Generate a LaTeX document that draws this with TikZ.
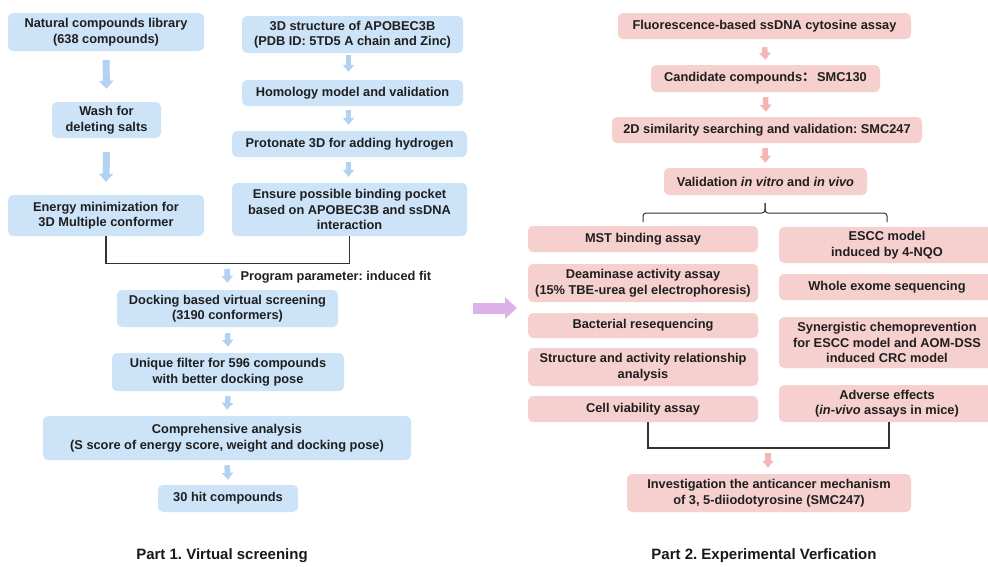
\documentclass[tikz,border=0pt]{standalone}
\usepackage{fontspec}
\setmainfont{Liberation Sans}
\newfontfamily\cjkfont{Noto Sans CJK SC}
\usetikzlibrary{arrows.meta,calc}
\definecolor{boxblue}{HTML}{CDE3F8}
\definecolor{arrblue}{HTML}{B3D2F1}
\definecolor{boxpink}{HTML}{F6CFCF}
\definecolor{arrpink}{HTML}{F3B5B5}
\definecolor{arrpurple}{HTML}{DDB2E8}
\definecolor{linegray}{HTML}{333333}
\frenchspacing
\newcommand{\boxfont}{\fontsize{12.8}{15.5}\selectfont\bfseries}
\tikzset{
  x=1pt, y=-1pt,
  basebox/.style={rounded corners=5pt, align=center, inner sep=0pt, font=\boxfont, text=black!88},
  bbox/.style={basebox, fill=boxblue},
  pbox/.style={basebox, fill=boxpink},
  bigarrow/.style={draw=arrblue, line width=7pt, -{Triangle[width=14pt,length=8pt]}},
  smallarrow/.style={draw=arrblue, line width=5.5pt, -{Triangle[width=11pt,length=7pt]}},
  pinkarrow/.style={draw=arrpink, line width=5.5pt, -{Triangle[width=11pt,length=7pt]}},
  purplearrow/.style={draw=arrpurple, line width=11pt, -{Triangle[width=21pt,length=12pt]}},
  conn/.style={draw=linegray, line width=1.2pt},
  title/.style={font=\fontsize{15}{18}\selectfont\bfseries, text=black!90},
}
\begin{document}
\begin{tikzpicture}
\useasboundingbox (0,0) rectangle (988,566);
\clip (0,0) rectangle (988,566);
\fill[white] (0,0) rectangle (988,566);

% ---------- Part 1 ----------
\node[bbox, minimum width=196pt, minimum height=38pt] (nat) at (106,32) {Natural compounds library\\(638 compounds)};
\node[bbox, minimum width=109pt, minimum height=36pt] (wash) at (106.5,120) {Wash for\\deleting salts};
\node[bbox, minimum width=196pt, minimum height=41pt] (energy) at (106,215.5) {Energy minimization for\\3D Multiple conformer};
\node[bbox, minimum width=221pt, minimum height=37pt] (struct) at (352.5,34.5) {3D structure of APOBEC3B\\(PDB ID: 5TD5 A chain and Zinc)};
\node[bbox, minimum width=221pt, minimum height=26pt] (homol) at (352.5,93) {Homology model and validation};
\node[bbox, minimum width=235pt, minimum height=26pt] (proton) at (349.5,144) {Protonate 3D for adding hydrogen};
\node[bbox, minimum width=235pt, minimum height=53pt] (ensure) at (349.5,209.5) {Ensure possible binding pocket\\based on APOBEC3B and ssDNA\\interaction};
\node[bbox, minimum width=221pt, minimum height=37pt] (dock) at (227.5,308.5) {Docking based virtual screening\\(3190 conformers)};
\node[bbox, minimum width=232pt, minimum height=38pt] (uniq) at (228,372) {Unique filter for 596 compounds\\with better docking pose};
\node[bbox, minimum width=368pt, minimum height=44pt] (comp) at (227,438) {Comprehensive analysis\\(S score of energy score, weight and docking pose)};
\node[bbox, minimum width=140pt, minimum height=27pt] (hit) at (228,498.5) {30 hit compounds};
\node[title] (t1) at (222,556) {Part 1. Virtual screening};

\draw[bigarrow] ($(nat.south)+(0,9)$) -- ($(wash.north)+(0,-13)$);
\draw[bigarrow] ($(wash.south)+(0,14)$) -- ($(energy.north)+(0,-13)$);
\draw[smallarrow] ($(struct.south)+(-4,2)$) -- ($(homol.north)+(-4,-8)$);
\draw[smallarrow] ($(homol.south)+(-4,4)$) -- ($(proton.north)+(-1,-6)$);
\draw[smallarrow] ($(proton.south)+(-1,5)$) -- ($(ensure.north)+(-1,-6)$);

\coordinate (jl) at (227,263);
\draw[conn] (energy.south) -- ++(0,27) -| (ensure.south);
\draw[smallarrow] ($(jl)+(0,6)$) -- ($(dock.north)+(0,-7)$);
\node[anchor=west, font=\boxfont, text=black!88] (param) at (237,277) {Program parameter: induced fit};
\draw[smallarrow] ($(dock.south)+(0,6)$) -- ($(uniq.north)+(0,-6)$);
\draw[smallarrow] ($(uniq.south)+(0,5)$) -- ($(comp.north)+(0,-6)$);
\draw[smallarrow] ($(comp.south)+(0,5)$) -- ($(hit.north)+(0,-5)$);

% ---------- arrow between parts ----------
\coordinate (pa) at (473,308);
\coordinate (pb) at (517,308);
\draw[purplearrow] (pa) -- (pb);

% ---------- Part 2 ----------
\node[pbox, minimum width=293pt, minimum height=26pt] (fluor) at (764.5,26) {Fluorescence-based ssDNA cytosine assay};
\node[pbox, minimum width=229pt, minimum height=27pt] (cand) at (765.5,78.5) {Candidate compounds{\cjkfont ：}\,SMC130};
\node[pbox, minimum width=310pt, minimum height=26pt] (sim) at (767,130) {2D similarity searching and validation: SMC247};
\node[pbox, minimum width=203pt, minimum height=27pt] (valid) at (765.5,181.5) {Validation \textit{in vitro} and \textit{in vivo}};

\node[pbox, minimum width=230pt, minimum height=26pt] (mst) at (643,239) {MST binding assay};
\node[pbox, minimum width=230pt, minimum height=38pt] (deam) at (643,283) {Deaminase activity assay\\(15\% TBE-urea gel electrophoresis)};
\node[pbox, minimum width=230pt, minimum height=25pt] (bact) at (643,325.5) {Bacterial resequencing};
\node[pbox, minimum width=230pt, minimum height=38pt] (sar) at (643,367) {Structure and activity relationship\\analysis};
\node[pbox, minimum width=230pt, minimum height=26pt] (cell) at (643,409) {Cell viability assay};

\node[pbox, minimum width=216pt, minimum height=36pt] (escc) at (887,245) {ESCC model\\induced by 4-NQO};
\node[pbox, minimum width=216pt, minimum height=26pt] (wes) at (887,287) {Whole exome sequencing};
\node[pbox, minimum width=216pt, minimum height=51pt] (syn) at (887,342.5) {Synergistic chemoprevention\\for ESCC model and AOM-DSS\\induced CRC model};
\node[pbox, minimum width=216pt, minimum height=37pt] (adv) at (887,403.5) {Adverse effects\\(\textit{in-vivo} assays in mice)};

\node[pbox, minimum width=284pt, minimum height=38pt] (inv) at (769,493) {Investigation the anticancer mechanism\\of 3, 5-diiodotyrosine (SMC247)};
\node[title] (t2) at (764,556) {Part 2. Experimental Verfication};

\draw[pinkarrow] ($(fluor.south)+(0,8)$) -- ($(cand.north)+(0,-5)$);
\draw[pinkarrow] ($(cand.south)+(0,5)$) -- ($(sim.north)+(-1,-5)$);
\draw[pinkarrow] ($(sim.south)+(-2,5)$) -- ($(valid.north)+(0,-5)$);

% brace
\coordinate (btip) at (765,203);
\coordinate (bl) at (643,222);
\coordinate (br) at (887,222);
\draw[conn, line width=1pt, rounded corners=3pt] (bl) -- (643,213) -- (765,213) -- (btip);
\draw[conn, line width=1pt, rounded corners=3pt] (br) -- (887,213) -- (765,213) -- (btip);

% bottom connector
\coordinate (jr) at (768,448);
\draw[conn] ($(cell.south)+(5,0)$) -- (648,448) -- (889,448) -- ($(adv.south)+(2,0)$);
\draw[pinkarrow] ($(jr)+(0,5)$) -- ($(inv.north)+(-1,-6)$);
\end{tikzpicture}
\end{document}
